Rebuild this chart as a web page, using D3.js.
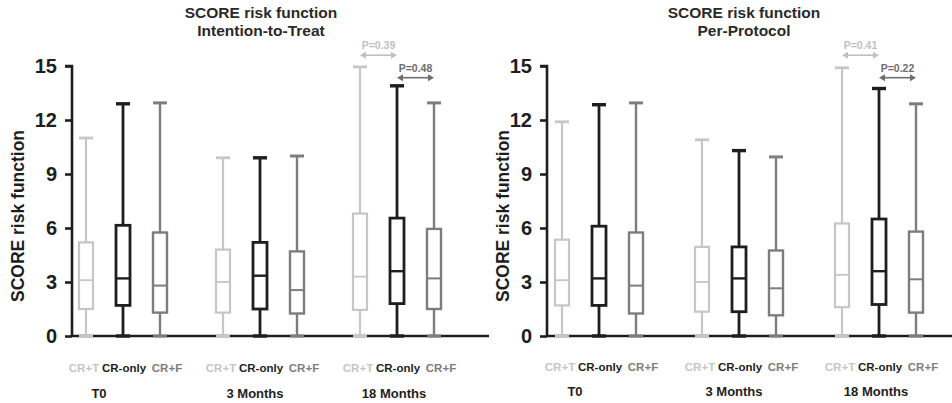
<!DOCTYPE html>
<html>
<head>
<meta charset="utf-8">
<script src="https://cdn.jsdelivr.net/npm/d3@7"></script>
<style>
  html, body { margin: 0; padding: 0; background: #fff; }
  svg { display: block; font-family: "Liberation Sans", Arial, sans-serif; }
</style>
</head>
<body>
<svg id="chart" width="952" height="403"></svg>
<script>
// ---------- data ----------
const times = ["T0", "3 Months", "18 Months"];
const groups = ["CR+T", "CR-only", "CR+F"];
const yTicks = [0, 3, 6, 9, 12, 15];

// Intention-to-Treat (order: T0 CR+T, CR-only, CR+F, 3M ..., 18M ...)
const ittMin = [0, 0, 0, 0, 0, 0, 0, 0, 0];
const ittQ1  = [1.5, 1.7, 1.3, 1.3, 1.5, 1.25, 1.45, 1.8, 1.5];
const ittMed = [3.1, 3.2, 2.8, 3.0, 3.35, 2.55, 3.3, 3.6, 3.2];
const ittQ3  = [5.2, 6.15, 5.75, 4.8, 5.2, 4.7, 6.8, 6.55, 5.95];
const ittMax = [11.0, 12.9, 12.95, 9.9, 9.9, 10.0, 14.95, 13.9, 12.95];
const ittP   = ["P=0.39", "P=0.48"];

// Per-Protocol
const ppMin = [0, 0, 0, 0, 0, 0, 0, 0, 0];
const ppQ1  = [1.7, 1.7, 1.25, 1.35, 1.35, 1.15, 1.6, 1.75, 1.3];
const ppMed = [3.1, 3.2, 2.8, 3.0, 3.2, 2.65, 3.4, 3.6, 3.15];
const ppQ3  = [5.35, 6.1, 5.75, 4.95, 4.95, 4.75, 6.25, 6.5, 5.8];
const ppMax = [11.9, 12.85, 12.95, 10.9, 10.3, 9.95, 14.9, 13.75, 12.9];
const ppP   = ["P=0.41", "P=0.22"];

// ---------- styles ----------
const colors = { "CR+T": "#c6c6c6", "CR-only": "#1e1e1e", "CR+F": "#7d7d7d" };
const widths = { "CR+T": 2.2, "CR-only": 2.8, "CR+F": 2.4 };
const labelDx = { "CR+T": -2, "CR-only": 1, "CR+F": 7 };
const axisColor = "#1e1e1e";

const svg = d3.select("#chart");

function panel(cfg) {
  const { title1, title2, axisX, axisEnd, groupRange, mins, q1s, meds, q3s, maxs, pLabels, titleX, yTitleX, timeY, subY } = cfg;
  const y = d3.scaleLinear().domain([0, 15]).range([336, 66]);
  const xg = d3.scalePoint().domain(times).range(groupRange);
  const xs = d3.scalePoint().domain(groups).range([-37, 37]);
  const g = svg.append("g");

  // titles
  g.append("text").attr("x", titleX).attr("y", 18).attr("text-anchor", "middle")
    .attr("font-size", 15.5).attr("font-weight", "bold").attr("fill", "#2a2a2a").text(title1);
  g.append("text").attr("x", titleX).attr("y", 36).attr("text-anchor", "middle")
    .attr("font-size", 15.5).attr("font-weight", "bold").attr("fill", "#2a2a2a").text(title2);

  // y axis
  const yAxis = d3.axisLeft(y).tickValues(yTicks).tickSize(7).tickPadding(8).tickFormat(d3.format("d"));
  const ya = g.append("g").attr("transform", `translate(${axisX},0)`).call(yAxis);
  ya.select(".domain").attr("stroke", axisColor).attr("stroke-width", 2.6).attr("d", `M-7,${y(15)}H0V${y(0)}`);
  ya.selectAll(".tick line").attr("stroke", axisColor).attr("stroke-width", 2.6);
  ya.selectAll(".tick text").attr("font-size", 20).attr("font-weight", "bold").attr("fill", "#1e1e1e")
    .attr("font-family", "'Liberation Sans', Arial, sans-serif");

  // y title
  g.append("text").attr("transform", `translate(${yTitleX},${(y(0) + y(15)) / 2 + 15}) rotate(-90)`)
    .attr("text-anchor", "middle").attr("font-size", 17.5).attr("font-weight", "bold").attr("fill", "#1e1e1e")
    .text("SCORE risk function");

  // x axis line
  g.append("line").attr("x1", axisX).attr("x2", axisEnd).attr("y1", y(0)).attr("y2", y(0))
    .attr("stroke", axisColor).attr("stroke-width", 2.6);

  // boxes
  const data = [];
  times.forEach((t, i) => groups.forEach((s, j) => {
    const k = i * 3 + j;
    data.push({ t, s, min: mins[k], q1: q1s[k], med: meds[k], q3: q3s[k], max: maxs[k] });
  }));
  const bw = 14;
  const bx = g.selectAll("g.box").data(data).join("g").attr("class", "box")
    .attr("transform", d => `translate(${xg(d.t) + xs(d.s)},0)`);
  bx.each(function(d) {
    const b = d3.select(this);
    const c = colors[d.s], w = widths[d.s];
    b.append("line").attr("x1", 0).attr("x2", 0).attr("y1", y(d.max)).attr("y2", y(d.q3)).attr("stroke", c).attr("stroke-width", w);
    b.append("line").attr("x1", 0).attr("x2", 0).attr("y1", y(d.q1)).attr("y2", y(d.min)).attr("stroke", c).attr("stroke-width", w);
    b.append("line").attr("x1", -bw / 2).attr("x2", bw / 2).attr("y1", y(d.max)).attr("y2", y(d.max)).attr("stroke", c).attr("stroke-width", w + 0.6);
    b.append("line").attr("x1", -bw / 2).attr("x2", bw / 2).attr("y1", y(d.min)).attr("y2", y(d.min)).attr("stroke", c).attr("stroke-width", w + 0.6);
    b.append("rect").attr("x", -bw / 2).attr("width", bw).attr("y", y(d.q3)).attr("height", y(d.q1) - y(d.q3))
      .attr("fill", "#fff").attr("stroke", c).attr("stroke-width", w);
    b.append("line").attr("x1", -bw / 2).attr("x2", bw / 2).attr("y1", y(d.med)).attr("y2", y(d.med)).attr("stroke", c).attr("stroke-width", w - 0.4);
  });

  // subgroup labels
  times.forEach(t => groups.forEach(s => {
    g.append("text").attr("x", xg(t) + xs(s) + labelDx[s]).attr("y", subY).attr("text-anchor", "middle")
      .attr("font-size", 11.5).attr("font-weight", "bold").attr("fill", colors[s]).text(s);
  }));
  // time labels
  const timeDx = [-24, -5, -3];
  times.forEach((t, i) => {
    g.append("text").attr("x", xg(t) + timeDx[i]).attr("y", timeY).attr("text-anchor", "middle")
      .attr("font-size", 13).attr("font-weight", "bold").attr("fill", "#1e1e1e").text(t);
  });

  // p-value arrows (18 Months)
  const t18 = times[2];
  const pairs = [
    { a: "CR+T", b: "CR-only", v: 15.6, label: pLabels[0], color: "#c0c0c0" },
    { a: "CR-only", b: "CR+F", v: 14.35, label: pLabels[1], color: "#6e6e6e" }
  ];
  pairs.forEach((p, i) => {
    const x1 = xg(t18) + xs(p.a), x2 = xg(t18) + xs(p.b), yy = y(p.v);
    const mid = (x1 + x2) / 2;
    g.append("line").attr("x1", x1 + 4).attr("x2", x2 - 4).attr("y1", yy).attr("y2", yy)
      .attr("stroke", p.color).attr("stroke-width", 1.6);
    g.append("path").attr("d", `M${x1},${yy}l6,-3.5v7z`).attr("fill", p.color);
    g.append("path").attr("d", `M${x2},${yy}l-6,-3.5v7z`).attr("fill", p.color);
    g.append("text").attr("x", mid).attr("y", yy - 6).attr("text-anchor", "middle")
      .attr("font-size", 10.5).attr("font-weight", "bold").attr("fill", p.color).text(p.label);
  });
}

panel({
  title1: "SCORE risk function", title2: "Intention-to-Treat",
  axisX: 72, axisEnd: 489, groupRange: [123, 397],
  mins: ittMin, q1s: ittQ1, meds: ittMed, q3s: ittQ3, maxs: ittMax, pLabels: ittP,
  titleX: 261, yTitleX: 24, timeY: 398, subY: 372
});
panel({
  title1: "SCORE risk function", title2: "Per-Protocol",
  axisX: 547, axisEnd: 952, groupRange: [599, 879],
  mins: ppMin, q1s: ppQ1, meds: ppMed, q3s: ppQ3, maxs: ppMax, pLabels: ppP,
  titleX: 744, yTitleX: 509, timeY: 396, subY: 371
});
</script>
</body>
</html>
